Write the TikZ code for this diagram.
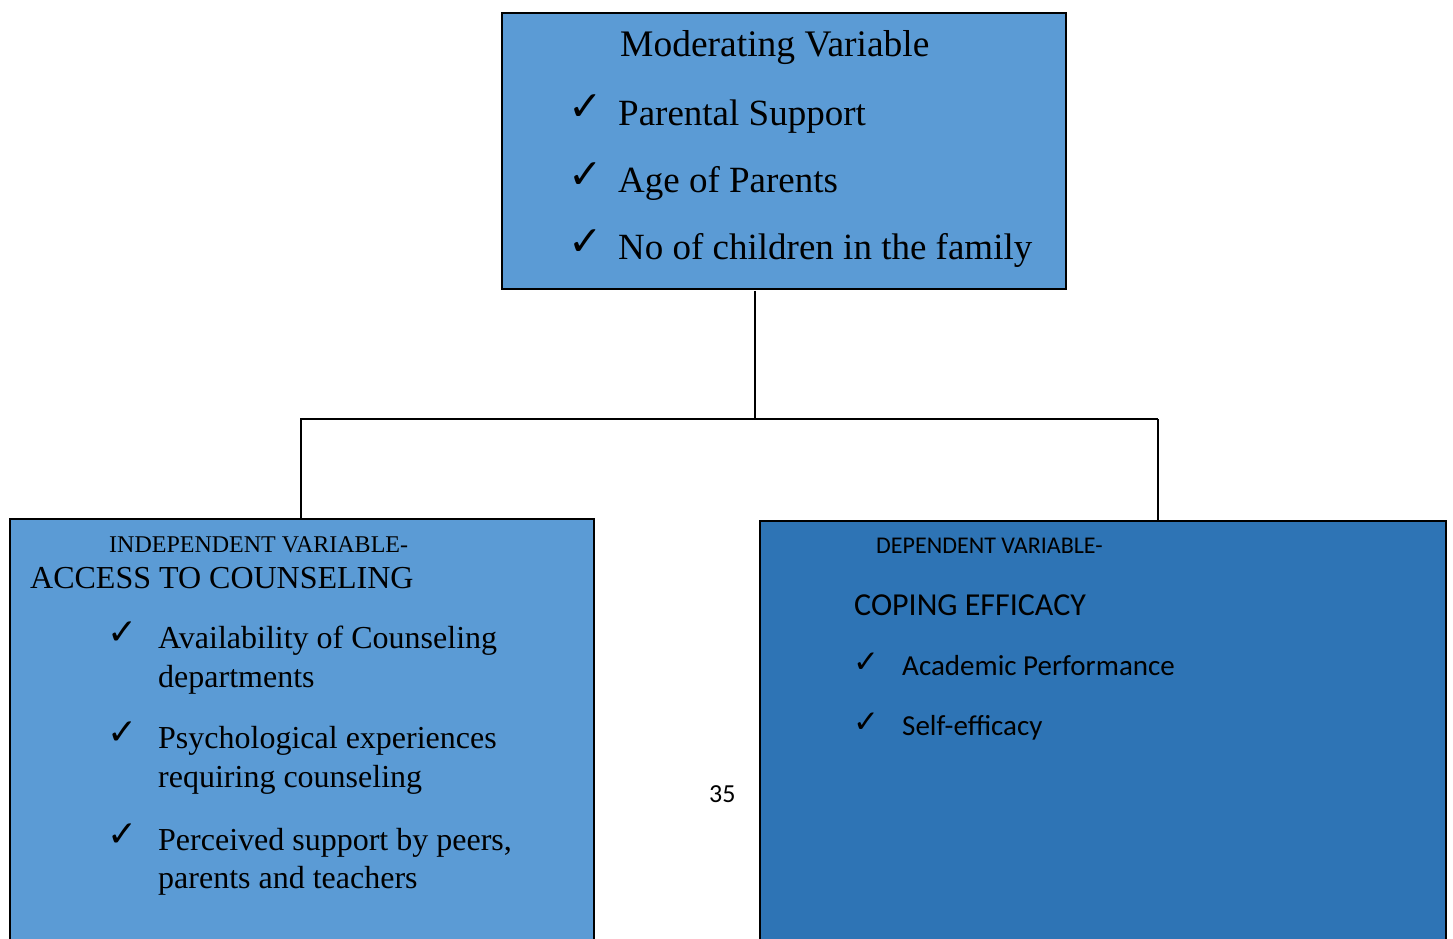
\documentclass[tikz,border=0pt]{standalone}
\usepackage{fontspec}
\setmainfont{Liberation Serif}
\newfontfamily\calibri{Carlito}
\newfontfamily\dejavu{DejaVu Sans}
\definecolor{boxlight}{HTML}{5B9BD5}
\definecolor{boxdark}{HTML}{2E74B5}
\tikzset{
  box/.style={draw=black, line width=1.8pt, anchor=north west, inner sep=0pt},
  txt/.style={anchor=base west, inner sep=0pt, text=black},
  conn/.style={draw=black, line width=1.3pt},
}
\newcommand{\fs}[1]{\fontsize{#1}{#1}\selectfont}
\newcommand{\ck}{{\dejavu ✓}}
\begin{document}
\begin{tikzpicture}[x=1pt, y=-1pt]
\useasboundingbox (0,0) rectangle (1453,939);
% boxes
\node[box, fill=boxlight, minimum width=564pt, minimum height=276pt] (mod) at (501,12) {};
\node[box, fill=boxlight, minimum width=584pt, minimum height=440pt] (ind) at (9,518) {};
\node[box, fill=boxdark, minimum width=686pt, minimum height=440pt] (dep) at (759,520) {};
% connectors
\coordinate (j) at (755,419);
\coordinate (jl) at (300,419);
\coordinate (jr) at (1158,419);
\draw[conn] (mod.south -| j) ++(0,1) -- (j);
\draw[conn] (jl) -- (jr);
\draw[conn] (jl) ++(1,0) -- (ind.north -| 301,0);
\draw[conn] (jr) -- (dep.north -| jr);
% top box text
\node[txt, font=\fs{37.5}] (m0) at (620,57) {Moderating Variable};
\node[txt, font=\fs{41}] (mc1) at (568,121) {\ck};
\node[txt, font=\fs{41}] (mc2) at (568,188) {\ck};
\node[txt, font=\fs{41}] (mc3) at (568,255) {\ck};
\node[txt, font=\fs{37}] (m1) at (618,125) {Parental Support};
\node[txt, font=\fs{37}] (m2) at (618,192) {Age of Parents};
\node[txt, font=\fs{37}] (m3) at (618,259) {No of children in the family};
% left box text
\node[txt, font=\fs{24}] (i0) at (109,552) {INDEPENDENT VARIABLE-};
\node[txt, font=\fs{32}] (i1) at (30,588) {ACCESS TO COUNSELING};
\node[txt, font=\fs{36}] (ic1) at (107,644) {\ck};
\node[txt, font=\fs{36}] (ic2) at (107,744) {\ck};
\node[txt, font=\fs{36}] (ic3) at (107,846) {\ck};
\node[txt, font=\fs{32}] (ia1) at (158,648) {Availability of Counseling};
\node[txt, font=\fs{32}] (ia2) at (158,687) {departments};
\node[txt, font=\fs{32}] (ib1) at (158,748) {Psychological experiences};
\node[txt, font=\fs{32}] (ib2) at (158,787) {requiring counseling};
\node[txt, font=\fs{32}] (ic1t) at (158,850) {Perceived support by peers,};
\node[txt, font=\fs{32}] (ic2t) at (158,888) {parents and teachers};
% right box text
\node[txt, font=\calibri\fs{24}] (d0) at (876,553) {DEPENDENT VARIABLE-};
\node[txt, font=\calibri\fs{32}] (d1) at (854,615) {COPING EFFICACY};
\node[txt, font=\fs{31}] (dc1) at (853,672) {\ck};
\node[txt, font=\fs{31}] (dc2) at (853,732) {\ck};
\node[txt, font=\calibri\fs{29}] (d2) at (902,675) {Academic Performance};
\node[txt, font=\calibri\fs{29}] (d3) at (902,735) {Self-efficacy};
% page number
\node[txt, font=\calibri\fs{26}] (pg) at (709,802) {35};
\end{tikzpicture}
\end{document}
